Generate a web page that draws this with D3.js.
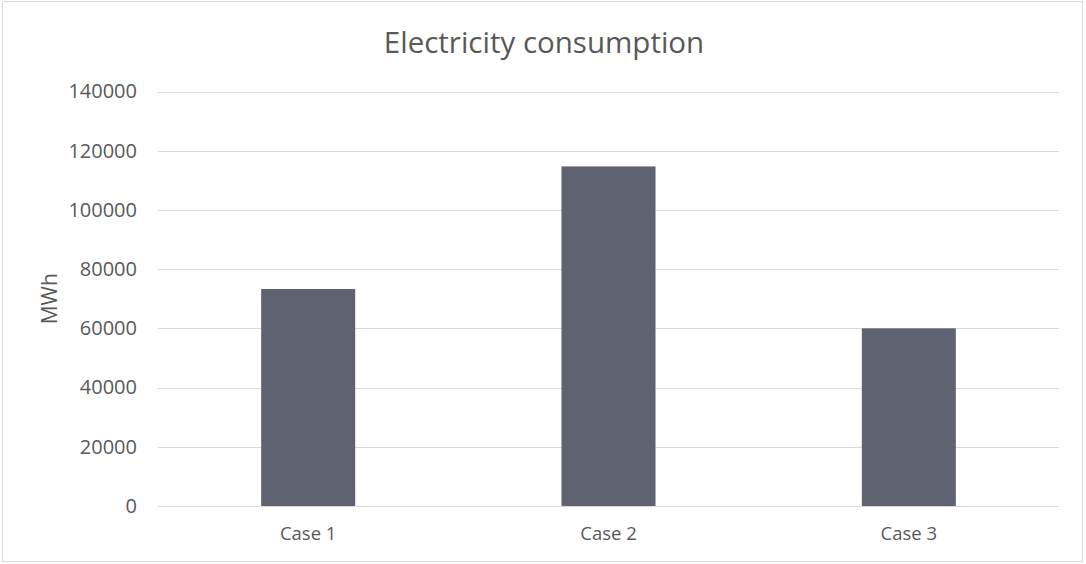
<!DOCTYPE html>
<html><head><meta charset="utf-8">
<script src="https://cdn.jsdelivr.net/npm/d3@7"></script>
<style>body{margin:0;background:#fff;} svg{display:block;}</style>
</head><body>
<svg id="c" width="1086" height="564"></svg>
<script>
const categories = ["Case 1", "Case 2", "Case 3"];
const values = [73300, 114700, 60000];
const yTicks = [0, 20000, 40000, 60000, 80000, 100000, 120000, 140000];
const title = "Electricity consumption";
const yTitle = "MWh";

const W = 1086, H = 564;
const m = {left: 158, right: 1059, top: 91.5, bottom: 506};
const svg = d3.select("#c");
const font = "'Open Sans', sans-serif";
const txt = "#595959";

svg.append("rect").attr("x", 2.5).attr("y", 1.5).attr("width", 1080).attr("height", 560)
  .attr("fill", "#fff").attr("stroke", "#d9d9d9").attr("stroke-width", 1);

const x = d3.scaleBand().domain(categories).range([m.left, m.right]).paddingInner(0.687).paddingOuter(0.3435);
const y = d3.scaleLinear().domain([0, 140000]).range([m.bottom, m.top]);

// gridlines
svg.append("g").selectAll("line").data(yTicks).join("line")
  .attr("x1", m.left).attr("x2", m.right)
  .attr("y1", d => Math.round(y(d)) + 0.5).attr("y2", d => Math.round(y(d)) + 0.5)
  .attr("stroke", "#d9d9d9").attr("stroke-width", 1);

// y axis labels
const yAxis = d3.axisLeft(y).tickValues(yTicks).tickSize(0).tickPadding(21).tickFormat(d3.format("d"));
const ya = svg.append("g").attr("transform", `translate(${m.left},0)`).call(yAxis);
ya.select(".domain").remove();
ya.selectAll("text").attr("fill", txt).style("font-family", font).style("font-size", "20px");

// bars
svg.append("g").selectAll("rect").data(values).join("rect")
  .attr("x", (d, i) => x(categories[i]))
  .attr("width", x.bandwidth())
  .attr("y", d => y(d))
  .attr("height", d => y(0) - y(d))
  .attr("fill", "#5f6270");

// x axis
const xAxis = d3.axisBottom(x).tickSize(0).tickPadding(21);
const xa = svg.append("g").attr("transform", `translate(0,${m.bottom})`).call(xAxis);
xa.select(".domain").remove();
xa.selectAll("text").attr("fill", txt).style("font-family", font).style("font-size", "18.5px");

// title
svg.append("text").attr("x", 544).attr("y", 53)
  .attr("text-anchor", "middle").attr("fill", txt)
  .style("font-family", font).style("font-size", "29.5px").text(title);

// y title
svg.append("text").attr("transform", `translate(57,${(m.top + m.bottom) / 2}) rotate(-90)`)
  .attr("text-anchor", "middle").attr("fill", txt)
  .style("font-family", font).style("font-size", "21px").text(yTitle);
</script>
</body></html>
